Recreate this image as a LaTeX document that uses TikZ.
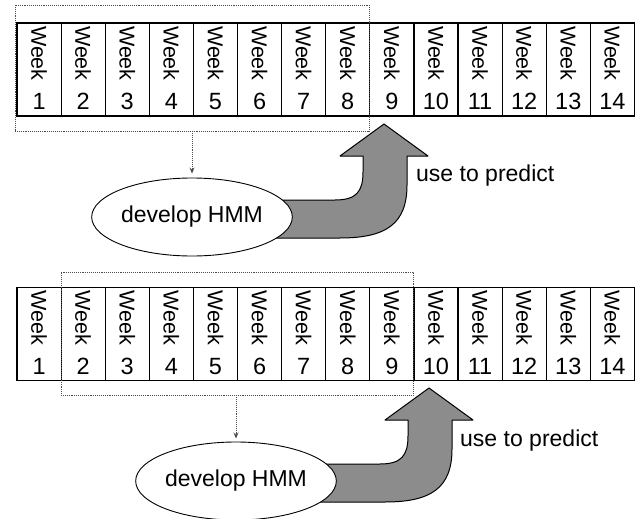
\documentclass[tikz,border=0pt]{standalone}
\usepackage{fontspec}
\setmainfont{Liberation Sans}
\usetikzlibrary{shapes.geometric,arrows.meta,fit}
\begin{document}
\begin{tikzpicture}[
    x=1pt, y=-1pt,
    cell/.style={draw, line width=1.2pt, minimum width=44.1pt, minimum height=93pt, inner sep=0pt},
    weektxt/.style={rotate=-90, font=\fontsize{21.5}{21.5}\selectfont, inner sep=0pt},
    numtxt/.style={font=\fontsize{23.5}{23.5}\selectfont, inner sep=0pt},
    window/.style={draw, black!70, densely dotted, line width=0.9pt, inner sep=0pt},
    feed/.style={draw, black!70, densely dotted, line width=0.9pt, -{Stealth[open,length=6pt,width=5pt]}},
    hmm/.style={draw, ellipse, fill=white, line width=0.9pt, minimum width=181pt, minimum height=78pt, inner sep=0pt, font=\fontsize{23}{23}\selectfont},
    bigarrow/.style={draw, fill=black!45, line width=1pt, line join=round},
    note/.style={anchor=west, inner sep=0pt, font=\fontsize{23}{23}\selectfont}
    ]
    \useasboundingbox (0,0) rectangle (640,519);
    \foreach \i in {1,...,14} {
        \node[cell] (a\i) at (17+44.1*\i-22.05, 69.5) {};
        \node[weektxt] (a\i w) at ([yshift=-31pt]a\i.north) {Week};
        \node[numtxt] (a\i n) at ([yshift=15pt]a\i.south) {\i};
        \node[cell] (b\i) at (17+44.1*\i-22.05, 334) {};
        \node[weektxt] (b\i w) at ([yshift=-31pt]b\i.north) {Week};
        \node[numtxt] (b\i n) at ([yshift=15pt]b\i.south) {\i};
    }
    \node[window, fit={(15,5) (369,131)}] (winA) {};
    \node[window, fit={(61,272) (413,395)}] (winB) {};
    \foreach \dx/\dy in {0/0, 45/264} {
        \draw[bigarrow, shift={(\dx,\dy)}] (250,200) -- (335,200)
            .. controls (356,200) and (363,192) .. (363,172) -- (363,156)
            -- (340,156) -- (384,124) -- (428,156) -- (407,156) -- (407,185)
            .. controls (407,224) and (386,238) .. (340,238) -- (250,238) -- cycle;
    }
    \node[hmm] (hmmA) at (192,217) {develop HMM};
    \node[hmm] (hmmB) at (236,481) {develop HMM};
    \draw[feed] (winA.south -| hmmA.north) -- ([yshift=4pt]hmmA.north);
    \draw[feed] (winB.south -| hmmB.north) -- ([yshift=3pt]hmmB.north);
    \node[note] (useA) at (416,176) {use to predict};
    \node[note] (useB) at (460,441) {use to predict};
\end{tikzpicture}
\end{document}
